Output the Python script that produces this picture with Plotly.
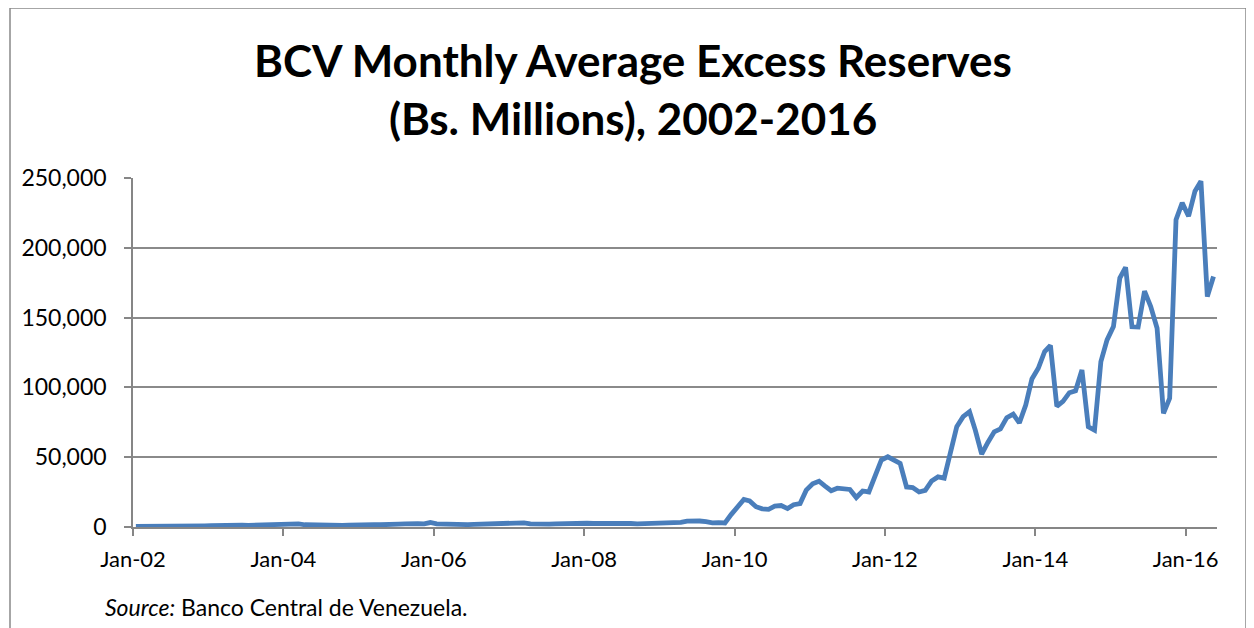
import pandas as pd
import plotly.graph_objects as go

# Monthly average excess reserves (Bs. millions), Jan-2002 .. May-2016
v2002 = [500, 450, 500, 550, 500, 600, 550, 600, 650, 700, 650, 800]
v2003 = [900, 1000, 1200, 1500, 2000, 1300, 1200, 1400, 1300, 1200, 1500, 1800]
v2004 = [2000, 1800, 2200, 1600, 1400, 1200, 1100, 1200, 1000, 1100, 1300, 1600]
v2005 = [1800, 1500, 1700, 1600, 2000, 1800, 2000, 2200, 2600, 2400, 2300, 3200]
v2006 = [2200, 2000, 1800, 2200, 2000, 1700, 1900, 2000, 1800, 2200, 1900, 2300]
v2007 = [2000, 2200, 3000, 2200, 1900, 2000, 2100, 2200, 2400, 2500, 2700, 2600]
v2008 = [2700, 2500, 2600, 2600, 2500, 2400, 2600, 2500, 2200, 2300, 2400, 2500]
v2009 = [2400, 2500, 2600, 3300, 4200, 4500, 4300, 3800, 3000, 3200, 2900, 8900]
v2010 = [14500, 19700, 18700, 14500, 13000, 12700, 15000, 15400, 13200, 16000, 16800, 26400]
v2011 = [31000, 32800, 29500, 26000, 27800, 26900, 26900, 21100, 25800, 25100, 35900, 48000]
v2012 = [50300, 48000, 45500, 28700, 28300, 25100, 26300, 33000, 35900, 35000, 55100, 71800]
v2013 = [79000, 82600, 69400, 52200, 60600, 68200, 70200, 78300, 80900, 74500, 87400, 106000]
v2014 = [113700, 125700, 130000, 86500, 90000, 96200, 97600, 112500, 71800, 69400, 118500, 134000]
v2015 = [143600, 178300, 186000, 143400, 143200, 169000, 158000, 142400, 81400, 92200, 220200, 232200]
v2016 = [222600, 240500, 247700, 165100, 179500]

values = v2002 + v2003 + v2004 + v2005 + v2006 + v2007 + v2008 + v2009 + v2010 + v2011 + v2012 + v2013 + v2014 + v2015 + v2016
dates = [d.replace(day=15) for d in pd.date_range("2002-01-01", periods=len(values), freq="MS")]

y_ticks = [0, 50000, 100000, 150000, 200000, 250000]
title_line1 = "BCV Monthly Average Excess Reserves"
title_line2 = "(Bs. Millions), 2002-2016"
source_text = "<i>Source:</i> Banco Central de Venezuela."

FONT = "Lato"
W, H = 1254, 628
OFF = 8  # page body margin offset in the screenshot
# desired on-screen plot area: x 133..1217, y 178.5..527
L, R, T, B = 133 - OFF, W - (1217 - OFF), 178 - OFF, H - (527 - OFF)
pw, ph = W - L - R, H - T - B


def px_to_paper_x(px):  # px = on-screen x
    return (px - OFF - L) / pw


def px_to_paper_y(py):  # py = on-screen y
    return (H - B - (py - OFF)) / ph


fig = go.Figure()
fig.add_trace(go.Scatter(
    x=dates, y=values, mode="lines",
    line=dict(color="#4A7EBB", width=4.8),
    hoverinfo="x+y", showlegend=False,
))

fig.update_layout(
    width=W, height=H,
    margin=dict(l=L, r=R, t=T, b=B),
    paper_bgcolor="white", plot_bgcolor="white",
    font=dict(family=FONT, color="black", size=22),
    xaxis=dict(
        type="date",
        range=["2002-01-01", "2016-06-01"],
        tick0="2002-01-01", dtick="M24", tickformat="%b-%y",
        showgrid=False, showline=True, linecolor="#868686", linewidth=1.5,
        ticks="outside", ticklen=7, tickcolor="#868686", tickwidth=1.5,
        tickfont=dict(family=FONT, size=22, color="black"),
        zeroline=False, ticklabelstandoff=5,
    ),
    yaxis=dict(
        range=[0, 250000], tickvals=y_ticks, tickformat=",d",
        showgrid=True, gridcolor="#8a8a8a", gridwidth=1.5,
        showline=True, linecolor="#868686", linewidth=1.5,
        ticks="outside", ticklen=7, tickcolor="#868686", tickwidth=1.5,
        tickfont=dict(family=FONT, size=23, color="black"),
        zeroline=False, ticklabelstandoff=13,
    ),
    annotations=[
        dict(text="<b>" + title_line1 + "</b>", xref="paper", yref="paper",
             x=px_to_paper_x(633), y=px_to_paper_y(60), xanchor="center", yanchor="middle",
             showarrow=False, font=dict(family=FONT, size=44, color="black")),
        dict(text="<b>" + title_line2 + "</b>", xref="paper", yref="paper",
             x=px_to_paper_x(633), y=px_to_paper_y(118), xanchor="center", yanchor="middle",
             showarrow=False, font=dict(family=FONT, size=44, color="black")),
        dict(text=source_text, xref="paper", yref="paper",
             x=px_to_paper_x(103), y=px_to_paper_y(607), xanchor="left", yanchor="middle",
             showarrow=False, font=dict(family=FONT, size=23, color="black")),
    ],
    shapes=[
        dict(type="rect", xref="paper", yref="paper",
             x0=px_to_paper_x(10), x1=px_to_paper_x(1246),
             y0=px_to_paper_y(660), y1=px_to_paper_y(8),
             line=dict(color="#898989", width=1.5), fillcolor="rgba(0,0,0,0)", layer="below"),
    ],
)

fig.write_html("out.html")
